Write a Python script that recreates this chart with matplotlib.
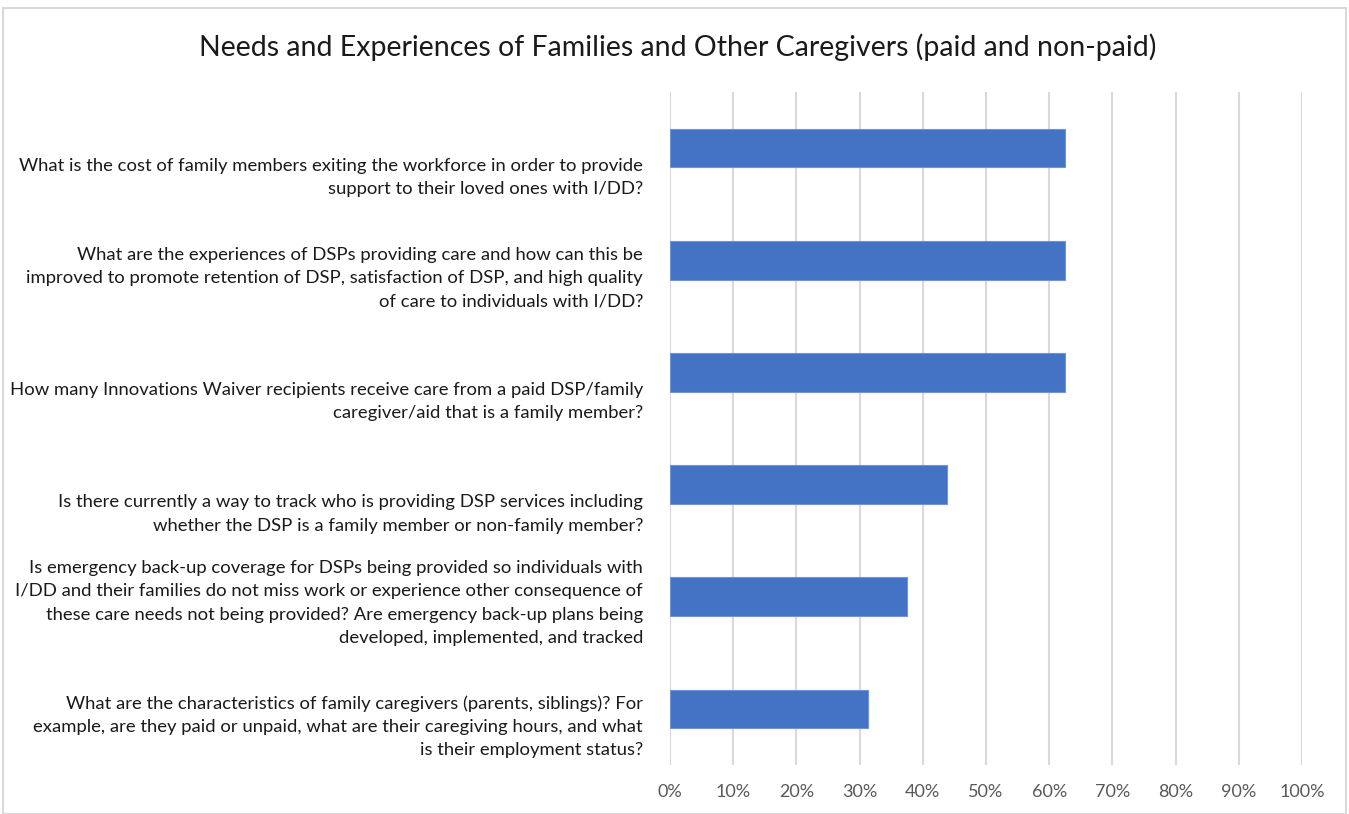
import matplotlib.pyplot as plt
from matplotlib.patches import Rectangle
from matplotlib.transforms import ScaledTranslation
from matplotlib.ticker import PercentFormatter

plt.rcParams['font.family'] = ['Lato', 'DejaVu Sans']

# categories from top to bottom, labels wrapped as in the original chart
questions = [
    "What is the cost of family members exiting the workforce in order to provide\n"
    "support to their loved ones with I/DD?",
    "What are the experiences of DSPs providing care and how can this be\n"
    "improved to promote retention of DSP, satisfaction of DSP, and high quality\n"
    "of care to individuals with I/DD?",
    "How many Innovations Waiver recipients receive care from a paid DSP/family\n"
    "caregiver/aid that is a family member?",
    "Is there currently a way to track who is providing DSP services including\n"
    "whether the DSP is a family member or non-family member?",
    "Is emergency back-up coverage for DSPs being provided so individuals with\n"
    "I/DD and their families do not miss work or experience other consequence of\n"
    "these care needs not being provided? Are emergency back-up plans being\n"
    "developed, implemented, and tracked",
    "What are the characteristics of family caregivers (parents, siblings)? For\n"
    "example, are they paid or unpaid, what are their caregiving hours, and what\n"
    "is their employment status?",
]
shares = [62.5, 62.5, 62.5, 43.75, 37.5, 31.25]

fig = plt.figure(figsize=(13.49, 8.14), dpi=100)
fig.patches.append(Rectangle((0.002, 0.0), 0.996, 0.99, transform=fig.transFigure,
                             fill=False, edgecolor='#d9d9d9', linewidth=1.5))

ax = fig.add_axes([0.4967, 0.0602, 0.4685, 0.8268])
pos = list(range(len(questions)))
ax.barh(pos, shares, height=0.345, color='#4472c4', edgecolor='#6f93d6',
        linewidth=0.8, zorder=2)

ax.set_xlim(0, 100)
ax.set_ylim(len(questions) - 0.5, -0.5)
ax.set_xticks(range(0, 101, 10))
ax.xaxis.set_major_formatter(PercentFormatter(decimals=0))
ax.set_yticks([])
ax.grid(axis='x', color='#d9d9d9', linewidth=1.5, zorder=0)
for s in ax.spines.values():
    s.set_visible(False)
ax.tick_params(axis='x', length=0, pad=14, labelsize=13, labelcolor='#595959')

# category labels: right aligned, bottom anchored a little below each bar
offset = ax.get_yaxis_transform() + ScaledTranslation(-0.27, -0.49, fig.dpi_scale_trans)
for i, q in enumerate(questions):
    ax.text(0, i, q, transform=offset, ha='right', va='bottom', multialignment='right',
            fontsize=13.3, color='#1a1a1a', linespacing=1.55)

fig.suptitle("Needs and Experiences of Families and Other Caregivers (paid and non-paid)",
             x=0.502, y=0.942, fontsize=20.5, color='#1a1a1a', va='center')

fig.savefig('out.png', dpi=100)
